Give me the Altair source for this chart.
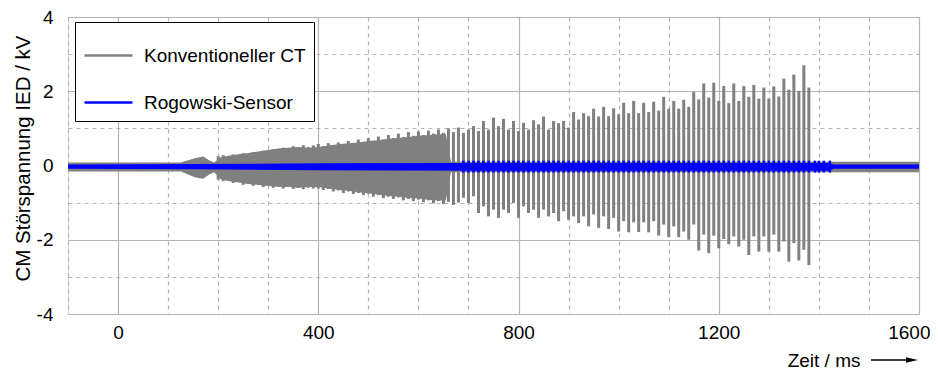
import altair as alt
import pandas as pd

SERIES = ["Konventioneller CT", "Rogowski-Sensor"]
COLORS = ["#808080", "#0000ff"]

# Envelope of the densely oscillating CT signal (ms, kV)
env_t = [-100, 125, 140, 155, 170, 182, 192, 205, 220, 240,
         260, 280, 300, 320, 340, 360, 380, 400, 420, 440,
         460, 480, 500, 520, 540, 560, 580, 600, 620, 640,
         655, 665, 1600]
env_hi = [0.08, 0.08, 0.14, 0.2, 0.24, 0.14, 0.08, 0.22, 0.26, 0.3,
          0.34, 0.38, 0.42, 0.46, 0.48, 0.5, 0.48, 0.5, 0.54, 0.57,
          0.6, 0.62, 0.66, 0.68, 0.72, 0.74, 0.77, 0.8, 0.82, 0.84,
          0.84, 0.1, 0.1]
env_lo = [-0.16, -0.16, -0.24, -0.32, -0.36, -0.24, -0.18, -0.37, -0.42, -0.46,
          -0.5, -0.52, -0.55, -0.57, -0.58, -0.6, -0.58, -0.58, -0.62, -0.65,
          -0.68, -0.72, -0.75, -0.78, -0.82, -0.84, -0.87, -0.89, -0.92, -0.94,
          -0.94, -0.18, -0.18]

# Individual CT transients every 10 ms from 200 ms to 1380 ms (kV)
spike_t = list(range(200, 1390, 10))
spike_hi = [0.25, 0.28, 0.24, 0.3, 0.27, 0.33, 0.3, 0.36, 0.32, 0.4,
            0.36, 0.44, 0.4, 0.48, 0.44, 0.52, 0.47, 0.55, 0.5, 0.54,
            0.58, 0.52, 0.6, 0.55, 0.62, 0.57, 0.66, 0.6, 0.7, 0.62,
            0.74, 0.67, 0.78, 0.7, 0.82, 0.74, 0.86, 0.77, 0.9, 0.8,
            0.92, 0.82, 0.94, 0.86, 0.97, 0.88, 1.0, 0.9, 1.02,
            0.88, 0.97, 1.06, 0.93, 1.20, 0.97, 1.29, 1.06, 1.26, 0.97,
            1.20, 0.93, 1.15, 0.97, 1.22, 1.11, 1.32, 0.97, 1.20, 1.14,
            1.20, 1.02, 1.44, 1.24, 1.41, 1.33,
            1.53, 1.32,
            1.58, 1.33, 1.54, 1.38, 1.69, 1.41, 1.74, 1.41, 1.69, 1.44,
            1.72, 1.48, 1.85, 1.53, 1.74, 1.53, 1.77, 1.58, 1.98, 1.78,
            2.21, 1.83, 2.23, 1.74, 2.14, 1.68, 2.21, 1.74, 2.14, 1.85,
            2.17, 1.80, 2.10, 1.80, 2.13, 1.86, 2.34, 2.04, 2.45, 2.01,
            2.70, 2.10]
spike_lo = [-0.38, -0.42, -0.4, -0.47, -0.44, -0.52, -0.48, -0.55, -0.52, -0.58,
            -0.55, -0.6, -0.57, -0.62, -0.58, -0.63, -0.6, -0.64, -0.6, -0.62,
            -0.62, -0.66, -0.63, -0.7, -0.67, -0.74, -0.7, -0.77, -0.74, -0.8,
            -0.76, -0.84, -0.8, -0.88, -0.84, -0.9, -0.86, -0.94, -0.9, -0.96,
            -0.92, -0.99, -0.94, -1.02, -0.96, -1.04, -0.98, -1.06, -1.0,
            -0.87, -1.01, -0.83, -1.28, -1.10, -1.37, -1.19, -1.41, -1.19, -1.28,
            -1.01, -1.41, -1.10, -1.28, -1.19, -1.41, -1.19, -1.37, -1.28, -1.50,
            -1.23, -1.46, -1.37, -1.55, -1.37, -1.64,
            -1.32, -1.68,
            -1.37, -1.71, -1.41, -1.78, -1.50, -1.80, -1.53, -1.79, -1.53, -1.80,
            -1.50, -1.89, -1.59, -1.93, -1.64, -1.93, -1.78, -2.00, -1.59, -2.29,
            -1.86, -2.36, -1.89, -2.23, -1.98, -2.12, -1.91, -2.18, -2.00, -2.41,
            -1.91, -2.32, -1.91, -2.32, -1.86, -2.32, -2.05, -2.59, -2.09, -2.56,
            -2.27, -2.68]

# Rogowski sensor: narrow band around zero plus small transients
blue_env_t = [-100, 150, 400, 700, 1420, 1430, 1600]
blue_env_hi = [0.03, 0.04, 0.06, 0.07, 0.07, 0.03, 0.03]
blue_env_lo = [-0.09, -0.1, -0.13, -0.14, -0.14, -0.09, -0.09]
blue_tick_t = list(range(690, 1390, 10)) + [1392, 1400, 1410, 1422]
blue_tick_hi = 0.13
blue_tick_lo = -0.19

baseline_t = [-100, 1600]
baseline_v = [0.0, 0.0]

env_df = pd.DataFrame({"t": env_t, "hi": env_hi, "lo": env_lo, "series": SERIES[0]})
spike_df = pd.DataFrame({"t": spike_t, "hi": spike_hi, "lo": spike_lo, "series": SERIES[0]})
blue_env_df = pd.DataFrame({"t": blue_env_t, "hi": blue_env_hi, "lo": blue_env_lo, "series": SERIES[1]})
blue_tick_df = pd.DataFrame({"t": blue_tick_t, "hi": blue_tick_hi, "lo": blue_tick_lo, "series": SERIES[1]})
base_df = pd.DataFrame({
    "t": baseline_t * 2,
    "hi": baseline_v * 2,
    "series": [SERIES[0]] * 2 + [SERIES[1]] * 2,
})

FONT = "Liberation Sans"
W, H = 851, 297

x_axis = alt.Axis(
    values=list(range(-100, 1700, 100)),
    labelExpr="datum.value % 400 === 0 ? '' + datum.value : ''",
    labelFlush=True, labelFlushOffset=11,
    title="Zeit / ms",
    titleAlign="right", titleBaseline="middle", titleX=792, titleY=46,
    titleFontSize=19, titleFontWeight="normal", titleFont=FONT, titleColor="black",
    labelFontSize=19, labelFont=FONT, labelPadding=9, labelColor="black",
    ticks=False, domain=False,
    gridColor="#b4b4b4", gridWidth=1.2,
    gridDash={"condition": {"test": "datum.value % 400 === 0", "value": []}, "value": [4, 4]},
)
y_axis = alt.Axis(
    values=[-4, -3, -2, -1, 0, 1, 2, 3, 4],
    labelExpr="datum.value % 2 === 0 ? '' + datum.value : ''",
    labelFlush=False,
    title="CM Störspannung IED / kV",
    titleY=141,
    titleFontSize=20.5, titleFontWeight="normal", titleFont=FONT, titlePadding=3, titleColor="black",
    labelFontSize=19, labelFont=FONT, labelPadding=15, labelColor="black",
    ticks=False, domain=False,
    gridColor="#b4b4b4", gridWidth=1.2,
    gridDash={"condition": {"test": "datum.value % 2 === 0", "value": []}, "value": [4, 4]},
)

xs = alt.Scale(domain=[-100, 1600], nice=False, zero=False)
ys = alt.Scale(domain=[-4, 4], nice=False)
cs = alt.Scale(domain=SERIES, range=COLORS)

X = alt.X("t:Q", scale=xs, axis=x_axis)
Y = alt.Y("hi:Q", scale=ys, axis=y_axis)
C = alt.Color("series:N", scale=cs, legend=alt.Legend(
    title=None, orient="none", legendX=7, legendY=5,
    symbolType="stroke", symbolSize=2304, symbolStrokeWidth=2.5,
    labelFontSize=19, labelFont=FONT, labelOffset=10, labelLimit=400,
    labelColor="black",
    rowPadding=11, padding=8, strokeColor="black", fillColor="white",
    cornerRadius=0,
))

base = alt.Chart(base_df).mark_line(strokeWidth=3).encode(
    x=X, y=Y, detail="series:N", color=C
)
env = alt.Chart(env_df).mark_area(opacity=1).encode(
    x=X, y=Y, y2="lo:Q", color=alt.Color("series:N", scale=cs)
)
spikes = alt.Chart(spike_df).mark_rule(strokeWidth=3).encode(
    x=X, y=Y, y2="lo:Q", color=alt.Color("series:N", scale=cs)
)
blue_env = alt.Chart(blue_env_df).mark_area(opacity=1).encode(
    x=X, y=Y, y2="lo:Q", color=alt.Color("series:N", scale=cs)
)
blue_ticks = alt.Chart(blue_tick_df).mark_rule(strokeWidth=2.5).encode(
    x=X, y=Y, y2="lo:Q", color=alt.Color("series:N", scale=cs)
)

# arrow next to the x-axis title (annotation in pixel space)
anno = pd.DataFrame({"k": [0]})
arrow_line = alt.Chart(anno).mark_rule(color="black", strokeWidth=1.3).encode(
    x=alt.value(803), x2=alt.value(840), y=alt.value(H + 46)
)
arrow_head = alt.Chart(anno).mark_point(
    shape="M-1,-0.45 L1,0 L-1,0.45 Z", filled=True, color="black", opacity=1, size=144
).encode(x=alt.value(844), y=alt.value(H + 46))

chart = alt.layer(base, env, spikes, blue_env, blue_ticks, arrow_line, arrow_head).properties(
    width=W, height=H
).configure_view(
    stroke="#333333", strokeWidth=1.5
).configure(
    font=FONT, padding={"left": 5, "top": 0, "right": 0, "bottom": 0}
)

chart.save("out.html", embed_options={"renderer": "svg", "actions": False})
